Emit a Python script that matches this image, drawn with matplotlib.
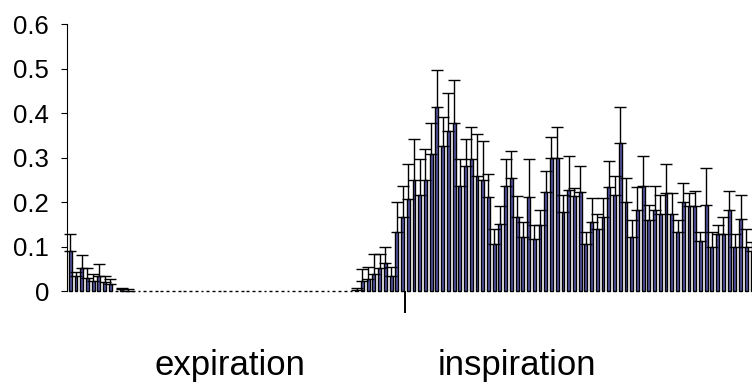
import numpy as np
import matplotlib
matplotlib.use("Agg")
import matplotlib.pyplot as plt

plt.rcParams['font.family'] = ['Liberation Sans', 'DejaVu Sans']

# Mean activity per time bin across the breathing cycle
mean_values = [
    0.090, 0.034, 0.051, 0.030, 0.022, 0.034, 0.021, 0.016, 0.000, 0.004,
    0.001, 0.000, 0.000, 0.000, 0.000, 0.000, 0.000, 0.000, 0.000, 0.000,
    0.000, 0.000, 0.000, 0.000, 0.000, 0.000, 0.000, 0.000, 0.000, 0.000,
    0.000, 0.000, 0.000, 0.000, 0.000, 0.000, 0.000, 0.000, 0.000, 0.000,
    0.000, 0.000, 0.000, 0.000, 0.000, 0.000, 0.000, 0.000, 0.000, 0.000,
    0.003, 0.023, 0.028, 0.039, 0.051, 0.062, 0.034, 0.133, 0.167, 0.206,
    0.249, 0.216, 0.249, 0.309, 0.414, 0.326, 0.360, 0.377, 0.237, 0.281,
    0.297, 0.259, 0.249, 0.212, 0.106, 0.151, 0.237, 0.255, 0.167, 0.121,
    0.212, 0.116, 0.149, 0.222, 0.299, 0.299, 0.178, 0.227, 0.213, 0.222,
    0.106, 0.155, 0.139, 0.167, 0.233, 0.216, 0.332, 0.199, 0.121, 0.182,
    0.237, 0.160, 0.182, 0.172, 0.221, 0.172, 0.133, 0.199, 0.190, 0.190,
    0.112, 0.193, 0.100, 0.128, 0.128, 0.182, 0.100, 0.161, 0.098, 0.090,
]

# Upper error (SEM) for each bin
upper_errors = [
    0.037, 0.009, 0.031, 0.021, 0.016, 0.027, 0.013, 0.012, 0.000, 0.003,
    0.003, 0.000, 0.000, 0.000, 0.000, 0.000, 0.000, 0.000, 0.000, 0.000,
    0.000, 0.000, 0.000, 0.000, 0.000, 0.000, 0.000, 0.000, 0.000, 0.000,
    0.000, 0.000, 0.000, 0.000, 0.000, 0.000, 0.000, 0.000, 0.000, 0.000,
    0.000, 0.000, 0.000, 0.000, 0.000, 0.000, 0.000, 0.000, 0.000, 0.000,
    0.003, 0.026, 0.027, 0.044, 0.032, 0.036, 0.021, 0.066, 0.069, 0.080,
    0.093, 0.081, 0.071, 0.068, 0.083, 0.064, 0.086, 0.097, 0.060, 0.061,
    0.072, 0.094, 0.087, 0.052, 0.033, 0.041, 0.060, 0.060, 0.046, 0.033,
    0.085, 0.033, 0.032, 0.048, 0.048, 0.070, 0.037, 0.076, 0.019, 0.059,
    0.026, 0.055, 0.033, 0.043, 0.060, 0.043, 0.081, 0.055, 0.039, 0.051,
    0.066, 0.033, 0.054, 0.043, 0.064, 0.049, 0.027, 0.043, 0.031, 0.035,
    0.020, 0.083, 0.032, 0.021, 0.039, 0.043, 0.027, 0.054, 0.041, 0.021,
]

y_ticks = [0.0, 0.1, 0.2, 0.3, 0.4, 0.5, 0.6]
y_tick_labels = ['0', '0.1', '0.2', '0.3', '0.4', '0.5', '0.6']
phase_boundary = [58.5]
phase_labels = ['expiration', 'inspiration']

means = np.array(mean_values)
errs = np.array(upper_errors)
x = np.arange(len(means))

fig = plt.figure(figsize=(7.52, 3.89), dpi=100)
ax = fig.add_axes([0.0896, 0.2519, 0.9104, 0.6864])

ax.bar(x, means, width=0.5, color='#5656A8', edgecolor='black',
       linewidth=1.0, clip_on=False, zorder=2)

has_err = errs > 0
ax.errorbar(x[has_err], means[has_err],
            yerr=[np.zeros(has_err.sum()), errs[has_err]],
            fmt='none', ecolor='black', elinewidth=1.0, capsize=4.5,
            capthick=1.0, clip_on=False, zorder=3)

ax.set_xlim(-0.5, 119.0)
ax.set_ylim(0, 0.6)

ax.set_yticks(y_ticks)
ax.set_yticklabels(y_tick_labels, fontsize=18.5)
ax.tick_params(axis='y', direction='out', length=4.3, width=0.8, pad=9.0,
               colors='black')

ax.set_xticks(phase_boundary)
ax.set_xticklabels([''])
ax.tick_params(axis='x', direction='out', length=16, width=1.4, colors='black')

for side in ('top', 'right', 'bottom'):
    ax.spines[side].set_visible(False)
ax.spines['left'].set_linewidth(0.8)
ax.spines['left'].set_color('black')

fig.text(230 / 752, 1 - 365 / 389, phase_labels[0], fontsize=25,
         ha='center', va='center')
fig.text(517 / 752, 1 - 365 / 389, phase_labels[1], fontsize=25,
         ha='center', va='center')

fig.savefig('out.png', dpi=100, facecolor='white')
